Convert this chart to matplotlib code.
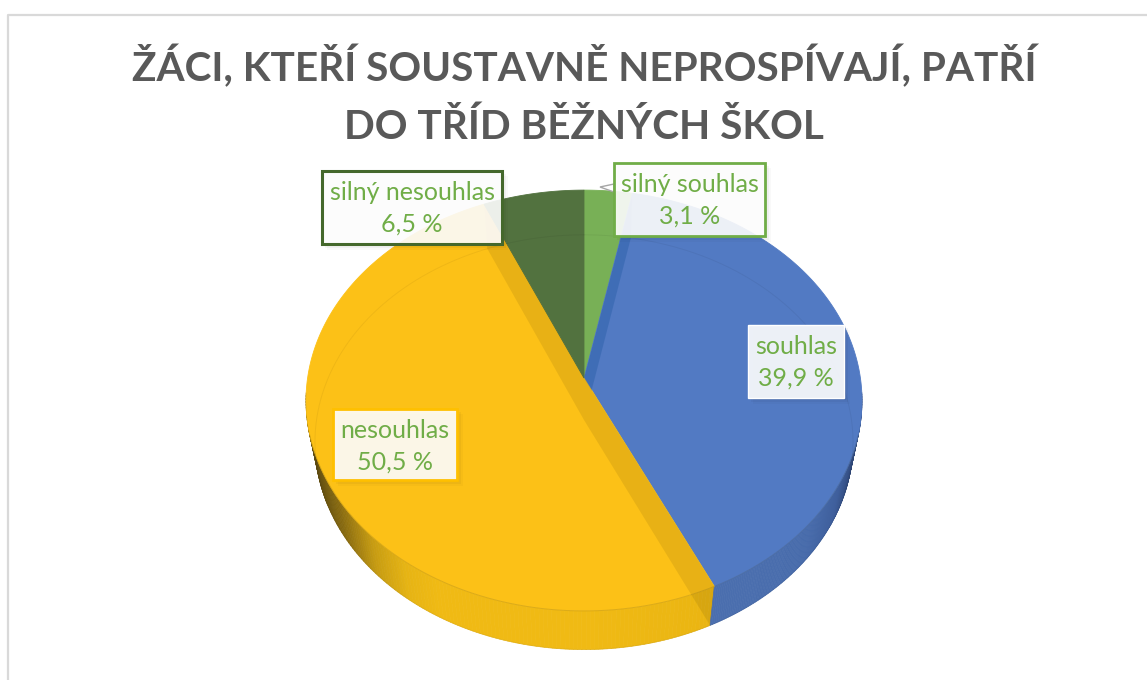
# -*- coding: utf-8 -*-
import numpy as np
import matplotlib
matplotlib.use("Agg")
import matplotlib.pyplot as plt
from matplotlib.colors import LinearSegmentedColormap
from matplotlib.patches import Polygon, Rectangle

title_lines = ["ŽÁCI, KTEŘÍ SOUSTAVNĚ NEPROSPÍVAJÍ, PATŘÍ", "DO TŘÍD BĚŽNÝCH ŠKOL"]
categories = ["silný souhlas", "souhlas", "nesouhlas", "silný nesouhlas"]
values = [3.1, 39.9, 50.5, 6.5]

colors = ["#78b056", "#527ac3", "#fcc117", "#52723f"]
edge_colors = ["#70ad47", "#ffffff", "#ffc000", "#44682c"]
# x0, y0, x1, y1 of the label boxes, px
boxes = [(614, 163, 765, 236), (748, 325, 844, 398), (333, 409, 457, 480), (322, 171, 502, 244)]

FONT = ["Lato", "Open Sans", "DejaVu Sans"]
TEXT_GREEN = "#70ad47"

# top and bottom face of the pie in px, with a little perspective
K = 0.107
TOP = (584, 378, 276.4, 208)
BOT = (584, 420, 267.5, 205)
# part of the rim where the side face can be seen, degrees
SIDE_FROM, SIDE_TO = 94, 266


def rim(t, face):
    # t in radians, clockwise from 12 o'clock
    cx, cy, a, b = face
    u, v = np.sin(t), np.cos(t)
    w = 1 + K * v
    return cx + a * u / w, cy - b * v / w


fig = plt.figure(figsize=(11.47, 6.80), dpi=100)
ax = fig.add_axes([0, 0, 1, 1])
ax.set_xlim(0, 1147)
ax.set_ylim(680, 0)
ax.axis("off")

# chart frame
ax.plot([8, 8, 1147], [680, 15, 15], color="#d9d9d9", lw=1.6, zorder=1)

edges = np.radians(np.cumsum([0] + values) * 3.6)

# side faces, shaded along x
yellow_side = LinearSegmentedColormap.from_list(
    "y", ["#5c4a12", "#8a6c10", "#c79c12", "#e6b414", "#f0ba14", "#eab512"])
blue_side = LinearSegmentedColormap.from_list(
    "b", ["#4a6eae", "#476bab", "#3f5f9c", "#2a3f6b"])
for i, cmap in [(2, yellow_side), (1, blue_side)]:
    ts = np.linspace(max(edges[i], np.radians(SIDE_FROM)),
                     min(edges[i + 1], np.radians(SIDE_TO)), 140)
    for t0, t1 in zip(ts[:-1], ts[1:]):
        xa, ya = rim(t0, TOP)
        xb, yb = rim(t1, TOP)
        xc, yc = rim(t1, BOT)
        xd, yd = rim(t0, BOT)
        xm = (xa + xb) / 2
        if i == 2:
            frac = np.clip((xm - 306) / 130, 0, 1) * 0.8
            if xm > 584:
                frac = 0.8 + 0.2 * np.clip((xm - 584) / 130, 0, 1)
        else:
            frac = np.clip((xm - 712) / 150, 0, 1) ** 2.5
        c = cmap(frac)
        ax.add_patch(Polygon([(xa, ya), (xb, yb), (xc, yc), (xd, yd)], closed=True,
                             fc=c, ec=c, lw=0.5, zorder=2))

# top face
faces = []
for i in range(len(values)):
    ts = np.linspace(edges[i], edges[i + 1], 200)
    xs, ys = rim(ts, TOP)
    pts = [(TOP[0], TOP[1])] + list(zip(xs, ys))
    faces.append(ax.add_patch(Polygon(pts, closed=True, fc=colors[i], ec=colors[i],
                                      lw=0.6, zorder=3)))

# cut walls seen through the translucent slices
xt, yt = rim(edges[1], TOP)
xb, yb = rim(edges[1], BOT)
blue_wall = Polygon([(TOP[0], TOP[1]), (xt, yt), (xb, yb), (BOT[0], BOT[1])], closed=True,
                    fc="#2a5fa8", ec="none", alpha=0.45, zorder=4)
ax.add_patch(blue_wall)
blue_wall.set_clip_path(faces[1])

xa_t, ya_t = rim(edges[2], TOP)
xa_b, ya_b = rim(edges[2], BOT)
xd_t, yd_t = rim(edges[3], TOP)
xd_b, yd_b = rim(edges[3], BOT)
ax.add_patch(Polygon([(xd_t, yd_t), (xd_b, yd_b), (BOT[0], BOT[1]), (xa_b, ya_b),
                      (xa_t, ya_t), (TOP[0], TOP[1])], closed=True,
                     fc="#000000", ec="none", alpha=0.08, zorder=4))

# rim lines
ts = np.linspace(0, 2 * np.pi, 400)
xs, ys = rim(ts, BOT)
ax.plot(xs, ys, color="#000000", lw=0.7, alpha=0.05, zorder=4)
ts = np.linspace(np.radians(SIDE_FROM) + 0.2, np.radians(SIDE_TO) - 0.2, 200)
xs, ys = rim(ts, TOP)
ax.plot(xs, ys, color="#3a3a1a", lw=0.7, alpha=0.16, zorder=4)

# small leader stub at the light green slice
ax.add_patch(Polygon([(600, 187), (614, 184), (614, 192)], closed=True, fc="#ffffff",
                     ec="#a6a6a6", lw=1.0, zorder=5))

# labels
for name, val, box, ec, lw in zip(categories, values, boxes, edge_colors, [2.0, 1.0, 2.0, 2.2]):
    x0, y0, x1, y1 = box
    for off, al in [(6, 0.025), (4, 0.035), (2, 0.05)]:
        ax.add_patch(Rectangle((x0 + off - 1, y0 + off - 1), x1 - x0 + 1, y1 - y0 + 1,
                               fc="#000000", ec="none", alpha=al, zorder=6))
    ax.add_patch(Rectangle((x0, y0), x1 - x0, y1 - y0, fc="#ffffff", ec="none",
                           alpha=0.90, zorder=7))
    ax.add_patch(Rectangle((x0, y0), x1 - x0, y1 - y0, fc="none", ec=ec, lw=lw, zorder=8))
    xm = (x0 + x1) / 2
    ax.text(xm, y0 + 22, name, color=TEXT_GREEN, fontsize=18, family=FONT,
            ha="center", va="center", zorder=9)
    ax.text(xm, y0 + 53, f"{val:.1f}".replace(".", ",") + " %", color=TEXT_GREEN,
            fontsize=18, family=FONT, ha="center", va="center", zorder=9)

# title
ax.text(584, 67, title_lines[0], color="#595959", fontsize=29.2, fontweight="bold",
        family=FONT, ha="center", va="center", zorder=9)
ax.text(584, 127, title_lines[1], color="#595959", fontsize=29.2, fontweight="bold",
        family=FONT, ha="center", va="center", zorder=9)

fig.savefig("out.png", dpi=100)
